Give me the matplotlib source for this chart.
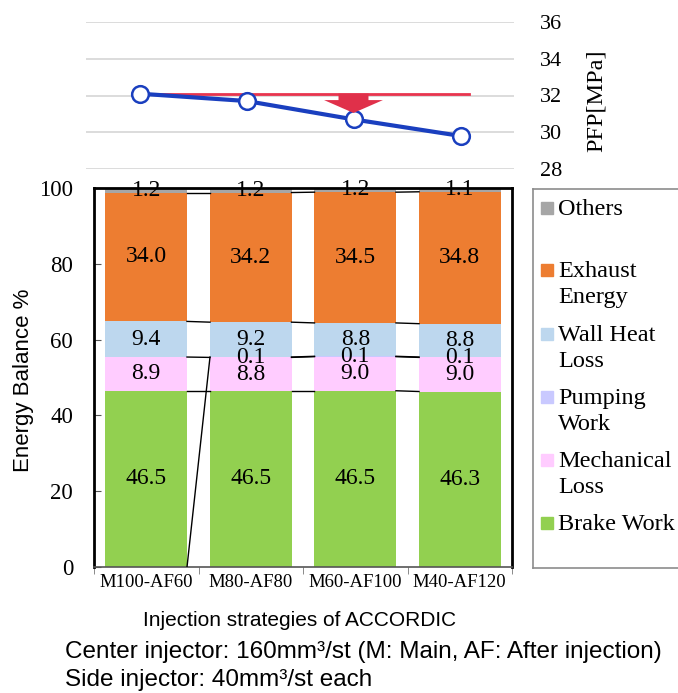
import numpy as np
import matplotlib.pyplot as plt
from matplotlib.patches import FancyArrow, Rectangle

# datos
estrategias = ['M100-AF60', 'M80-AF80', 'M60-AF100', 'M40-AF120']
pfp = [32.1, 31.7, 30.7, 29.8]

brake = [46.5, 46.5, 46.5, 46.3]
mecanica = [8.9, 8.8, 9.0, 9.0]
bombeo = [np.nan, 0.1, 0.1, 0.1]
pared = [9.4, 9.2, 8.8, 8.8]
escape = [34.0, 34.2, 34.5, 34.8]
otros = [1.2, 1.2, 1.2, 1.1]

nombres = ['Brake Work', 'Mechanical\nLoss', 'Pumping\nWork', 'Wall Heat\nLoss', 'Exhaust\nEnergy', 'Others']
colores = ['#92d050', '#ffccff', '#c9c9ff', '#bdd7ee', '#ed7d31', '#a6a6a6']

W, H = 678, 693
serif = ['Liberation Serif', 'DejaVu Serif']
sans = ['Liberation Sans', 'DejaVu Sans']


def caja(x0, y0, x1, y1):
    # pixeles (desde arriba) -> coordenadas de figura
    return [x0 / W, 1 - y1 / H, (x1 - x0) / W, (y1 - y0) / H]


fig = plt.figure(figsize=(W / 100, H / 100), dpi=100)

# ---- grafico superior PFP ----
ax_p = fig.add_axes(caja(86, 22, 514, 169))
x = np.arange(len(estrategias))
ax_p.plot(x, pfp, '-o', color='#1a3fbf', lw=3, ms=12, mfc='white', mec='#1a3fbf', mew=1.8, zorder=4)
ax_p.plot([0, 3.08], [pfp[0], pfp[0]], color='#e8344e', lw=2, zorder=3)
flecha = FancyArrow(2, pfp[0], 0, -1.05, width=0.28, head_width=0.55, head_length=0.7,
                    length_includes_head=True, color='#e0304a', lw=0, zorder=5)
ax_p.add_patch(flecha)
ax_p.set_xlim(-0.5, 3.5)
ax_p.set_ylim(28, 36)
ax_p.set_yticks([28, 30, 32, 34, 36])
ax_p.yaxis.tick_right()
ax_p.tick_params(axis='y', length=0, pad=19, labelsize=16)
ax_p.set_xticks([])
for t in ax_p.get_yticklabels():
    t.set_family(serif)
ax_p.grid(axis='y', color='#d9d9d9', lw=1.3)
for s in ax_p.spines.values():
    s.set_visible(False)
fig.text(596 / W, 1 - 101 / H, 'PFP[MPa]', rotation=90, ha='center', va='center',
         fontsize=17.5, family=serif)

# ---- barras apiladas ----
ax = fig.add_axes(caja(94, 188, 512, 567))
ancho = 0.78
series = [brake, mecanica, bombeo, pared, escape, otros]
base = np.zeros(len(estrategias))
topes = []
for vals, col in zip(series, colores):
    v = np.array(vals, dtype=float)
    v0 = np.nan_to_num(v)
    ax.bar(x, v0, ancho, bottom=base, color=col, zorder=2)
    for i in range(len(x)):
        if not np.isnan(v[i]):
            ax.text(x[i], base[i] + v[i] / 2, f'{v[i]:.1f}', ha='center', va='center',
                    fontsize=17, family=serif, zorder=4)
    tope = np.where(np.isnan(v), 0, base + v0)
    topes.append(tope)
    base = base + v0

# lineas de serie entre barras
for tope in topes:
    for i in range(len(x) - 1):
        ax.plot([x[i] + ancho / 2, x[i + 1] - ancho / 2], [tope[i], tope[i + 1]],
                color='black', lw=1, zorder=3)

ax.set_xlim(-0.5, 3.5)
ax.set_ylim(0, 100)
ax.set_yticks(range(0, 101, 20))
ax.tick_params(axis='y', direction='in', length=5, pad=15, labelsize=16.5, color='#555555')
ax.set_xticks(x)
ax.set_xticklabels(estrategias)
ax.tick_params(axis='x', length=0, pad=5, labelsize=13.5)
ax.set_xticks(np.arange(-0.5, 4, 1), minor=True)
ax.tick_params(axis='x', which='minor', direction='out', length=5, color='#777777')
for t in ax.get_yticklabels() + ax.get_xticklabels():
    t.set_family(serif)
for s in ax.spines.values():
    s.set_linewidth(2)
    s.set_color('black')
ax.spines['bottom'].set_linewidth(1.2)
ax.spines['bottom'].set_color('#555555')

fig.text(24 / W, 1 - 380 / H, 'Energy Balance %', rotation=90, ha='center', va='center',
         fontsize=16, family=sans)

# ---- leyenda ----
ax_l = fig.add_axes(caja(533, 189, 690, 568))
ax_l.set_xlim(533, 690)
ax_l.set_ylim(568, 189)
ax_l.set_xticks([])
ax_l.set_yticks([])
for s in ax_l.spines.values():
    s.set_color('#8c8c8c')
    s.set_linewidth(1.2)
filas = [523, 460, 397, 334, 270, 208]
for nombre, col, yy in zip(nombres, colores, filas):
    ax_l.add_patch(Rectangle((541, yy - 6), 12, 12, color=col))
    ax_l.text(558, yy - 9, nombre, ha='left', va='top', fontsize=17.5,
              family=serif, linespacing=1.3)

# ---- textos inferiores ----
fig.text(300 / W, 1 - 620 / H, 'Injection strategies of ACCORDIC', ha='center', va='center',
         fontsize=15, family=sans)
fig.text(65 / W, 1 - 652 / H, 'Center injector: 160mm³/st (M: Main, AF: After injection)',
         ha='left', va='center', fontsize=17.5, family=sans)
fig.text(65 / W, 1 - 680 / H, 'Side injector: 40mm³/st each', ha='left', va='center',
         fontsize=17.5, family=sans)

fig.savefig('out.png', dpi=100)
